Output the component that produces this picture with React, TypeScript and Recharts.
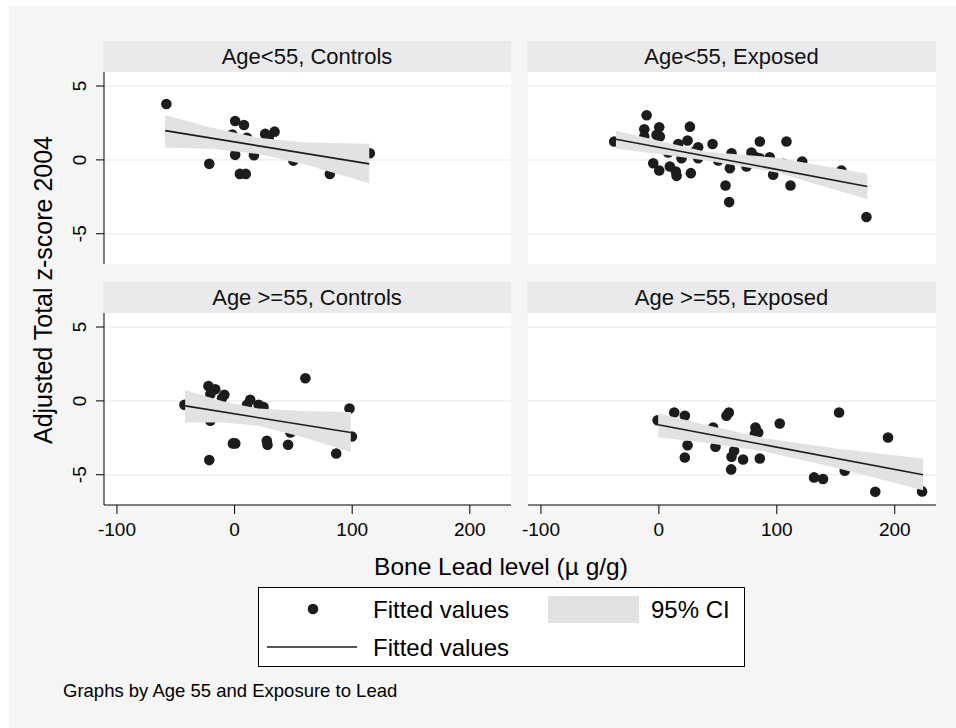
import React from "react";
import { ComposedChart, Scatter, Line, Area, XAxis, YAxis, ReferenceLine } from "recharts";

// panel titles and tick values
const panelTitles = ["Age<55, Controls", "Age<55, Exposed", "Age >=55, Controls", "Age >=55, Exposed"];
const xTicks = [-100, 0, 100, 200];
const yTicks = [-5, 0, 5];
const xDomain = [-111, 235];
const yDomain = [-7.05, 5.95];

// Age<55, Controls
const ctrlYoungPts = [
  { x: -58, y: 3.78 }, { x: 0.5, y: 2.63 }, { x: 8, y: 2.36 }, { x: 26, y: 1.76 },
  { x: 34, y: 1.91 }, { x: 29, y: 1.46 }, { x: -2, y: 1.72 }, { x: 10.5, y: 1.5 },
  { x: 0.5, y: 0.34 }, { x: 16.5, y: 0.32 }, { x: -21.5, y: -0.27 }, { x: 4.5, y: -0.95 },
  { x: 9.5, y: -0.95 }, { x: 50, y: -0.05 }, { x: 81, y: -0.95 }, { x: 115, y: 0.45 },
];
const ctrlYoungFit = [{ x: -59, y: 1.98 }, { x: 114.5, y: -0.27 }];
const ctrlYoungCI = [
  { x: -59, ci: [0.83, 3.04] }, { x: -20, ci: [0.75, 2.19] }, { x: 20, ci: [0.4, 1.5] },
  { x: 60, ci: [-0.32, 1.18] }, { x: 114.5, ci: [-1.58, 1.1] },
];

// Age<55, Exposed
const expYoungPts = [
  { x: -37.9, y: 1.24 }, { x: -10.4, y: 3.02 }, { x: -12.4, y: 2.07 }, { x: 0.3, y: 2.21 },
  { x: -2, y: 1.69 }, { x: 0.8, y: 1.58 }, { x: 26.3, y: 2.25 }, { x: 24.3, y: 1.31 },
  { x: 16.4, y: 1.08 }, { x: 33.3, y: 0.86 }, { x: 45.5, y: 1.08 }, { x: 19.2, y: 0.11 },
  { x: 33.3, y: 0.11 }, { x: -4.8, y: -0.23 }, { x: 0.3, y: -0.72 }, { x: 9.3, y: -0.45 },
  { x: 14.4, y: -0.79 }, { x: 15, y: -1.08 }, { x: 27.1, y: -0.9 }, { x: 7.9, y: 0.5 },
  { x: 50.3, y: -0.04 }, { x: 61.6, y: 0.45 }, { x: 60.2, y: -0.56 }, { x: 56.5, y: -1.73 },
  { x: 59.6, y: -2.86 }, { x: 78.5, y: 0.5 }, { x: 85.6, y: 1.24 }, { x: 85.6, y: 0.11 },
  { x: 74.3, y: -0.45 }, { x: 94, y: 0.18 }, { x: 96.9, y: -1.01 }, { x: 105.4, y: -0.27 },
  { x: 108.2, y: 1.24 }, { x: 111.6, y: -1.73 }, { x: 121.5, y: -0.11 }, { x: 154.8, y: -0.72 },
  { x: 176, y: -3.87 }, { x: 81.4, y: 0.22 }, { x: 30.5, y: 0.56 }, { x: -12.4, y: 1.58 },
];
const expYoungFit = [{ x: -36.4, y: 1.4 }, { x: 176.8, y: -1.8 }];
const expYoungCI = [
  { x: -36.4, ci: [0.75, 1.98] }, { x: 0, ci: [0.4, 1.3] }, { x: 40, ci: [-0.05, 0.55] },
  { x: 100, ci: [-0.85, 0.15] }, { x: 176.8, ci: [-2.66, -0.94] },
];

// Age >=55, Controls
const ctrlOldPts = [
  { x: -42.6, y: -0.27 }, { x: -22.2, y: 1.01 }, { x: -16.4, y: 0.79 }, { x: -20.6, y: 0.45 },
  { x: -8.7, y: 0.41 }, { x: -10.7, y: 0.18 }, { x: -20.6, y: -1.35 }, { x: -21.5, y: -4.01 },
  { x: -1.4, y: -2.88 }, { x: 0.6, y: -2.88 }, { x: 13.3, y: 0.07 }, { x: 20.4, y: -0.27 },
  { x: 24.6, y: -0.41 }, { x: 10.6, y: -0.27 }, { x: 27.4, y: -2.7 }, { x: 28, y: -2.97 },
  { x: 45.5, y: -2.97 }, { x: 60.2, y: 1.53 }, { x: 47.5, y: -2.14 }, { x: 97.7, y: -0.52 },
  { x: 99.7, y: -2.41 }, { x: 86.4, y: -3.56 },
];
const ctrlOldFit = [{ x: -41.9, y: -0.34 }, { x: 98.8, y: -2.14 }];
const ctrlOldCI = [
  { x: -42, ci: [-1.46, 0.72] }, { x: -10, ci: [-1.47, -0.03] }, { x: 20, ci: [-1.68, -0.52] },
  { x: 60, ci: [-2.5, -0.7] }, { x: 98.8, ci: [-3.48, -0.75] },
];

// Age >=55, Exposed
const expOldPts = [
  { x: -1.1, y: -1.31 }, { x: 13, y: -0.79 }, { x: 22, y: -1.01 }, { x: 24.3, y: -3.0 },
  { x: 22, y: -3.83 }, { x: 46, y: -1.8 }, { x: 48, y: -3.11 }, { x: 57.3, y: -1.01 },
  { x: 59.3, y: -0.79 }, { x: 63.8, y: -3.38 }, { x: 61.6, y: -3.78 }, { x: 61.3, y: -4.64 },
  { x: 71.4, y: -3.97 }, { x: 81.9, y: -1.8 }, { x: 81.4, y: -2.25 }, { x: 85.6, y: -3.9 },
  { x: 102.5, y: -1.53 }, { x: 131.6, y: -5.18 }, { x: 139.2, y: -5.29 }, { x: 152.8, y: -0.79 },
  { x: 157.6, y: -4.73 }, { x: 194.3, y: -2.48 }, { x: 183.5, y: -6.15 }, { x: 223.2, y: -6.13 },
  { x: 84.2, y: -2.14 },
];
const expOldFit = [{ x: -0.6, y: -1.62 }, { x: 224, y: -5.0 }];
const expOldCI = [
  { x: -0.6, ci: [-2.48, -0.84] }, { x: 40, ci: [-2.83, -1.63] }, { x: 90, ci: [-3.43, -2.53] },
  { x: 150, ci: [-4.53, -3.23] }, { x: 224, ci: [-6.05, -3.9] },
];

const FONT = '"Liberation Sans", Arial, Helvetica, sans-serif';
const INK = "#1c1c1c";
const BAND = "#e1e2e4";

const Dot = (p: any) => <circle cx={p.cx} cy={p.cy} r={5.3} fill={INK} />;

const YTick = ({ x, y, payload }: any) => (
  <text
    x={x - 8}
    y={y}
    transform={`rotate(-90 ${x - 8} ${y})`}
    textAnchor="middle"
    fontSize={19}
    fontFamily={FONT}
    fill="#000"
  >
    {payload.value}
  </text>
);

type PanelProps = {
  title: string;
  pts: { x: number; y: number }[];
  fit: { x: number; y: number }[];
  ci: { x: number; ci: number[] }[];
  left: number;
  top: number;
  width: number;
  showX: boolean;
  showY: boolean;
};

const Panel = ({ title, pts, fit, ci, left, top, width, showX, showY }: PanelProps) => {
  const plotH = 192;
  // room on the left: the y axis, or just enough for the "-100" tick label
  const padL = showY ? 45 : 30;
  const xH = showX ? 50 : 0;
  return (
    <>
      <div
        style={{
          position: "absolute", left: left - 1, top: top - 31, width: width + 1, height: 31,
          background: "#eaeaec", textAlign: "center", lineHeight: "31px",
          fontSize: 22, fontFamily: FONT, color: "#111",
        }}
      >
        {title}
      </div>
      <div style={{ position: "absolute", left, top, width, height: plotH, background: "#fff" }} />
      <div style={{ position: "absolute", left: left - padL, top }}>
        <ComposedChart
          width={width + padL}
          height={plotH + xH}
          margin={{ top: 0, right: 0, bottom: 0, left: showY ? 0 : padL }}
        >
          <XAxis
            dataKey="x"
            type="number"
            domain={xDomain}
            ticks={xTicks}
            interval={0}
            allowDataOverflow
            hide={!showX}
            height={50}
            tickSize={9}
            tickMargin={9}
            axisLine={{ stroke: "#000" }}
            tickLine={{ stroke: "#000" }}
            tick={{ fontSize: 19, fontFamily: FONT, fill: "#000" }}
          />
          <YAxis
            type="number"
            domain={yDomain}
            ticks={yTicks}
            interval={0}
            allowDataOverflow
            hide={!showY}
            width={45}
            tickSize={8}
            axisLine={{ stroke: "#000" }}
            tickLine={{ stroke: "#000" }}
            tick={<YTick />}
          />
          {yTicks.map((v) => (
            <ReferenceLine key={v} y={v} stroke="#efefef" strokeWidth={1.5} />
          ))}
          <Scatter data={pts} dataKey="y" shape={<Dot />} isAnimationActive={false} zIndex={600} />
          <Area
            data={ci}
            dataKey="ci"
            type="linear"
            stroke="none"
            fill={BAND}
            fillOpacity={1}
            isAnimationActive={false}
            zIndex={650}
          />
          <Line
            data={fit}
            dataKey="y"
            type="linear"
            stroke={INK}
            strokeWidth={1.6}
            dot={false}
            activeDot={false}
            isAnimationActive={false}
            zIndex={700}
          />
        </ComposedChart>
      </div>
    </>
  );
};

export default function App() {
  return (
    <div style={{ position: "absolute", left: 0, top: 0, width: 956, height: 728, background: "#fff", fontFamily: FONT }}>
      <div style={{ position: "absolute", left: 9, top: 6, width: 947, height: 722, background: "#f5f5f5" }} />
      <Panel title={panelTitles[0]} pts={ctrlYoungPts} fit={ctrlYoungFit} ci={ctrlYoungCI} left={104} top={72} width={407} showX={false} showY />
      <Panel title={panelTitles[1]} pts={expYoungPts} fit={expYoungFit} ci={expYoungCI} left={528} top={72} width={408} showX={false} showY={false} />
      <Panel title={panelTitles[2]} pts={ctrlOldPts} fit={ctrlOldFit} ci={ctrlOldCI} left={104} top={313} width={407} showX showY />
      <Panel title={panelTitles[3]} pts={expOldPts} fit={expOldFit} ci={expOldCI} left={528} top={313} width={408} showX showY={false} />
      <svg style={{ position: "absolute", left: 0, top: 0 }} width={956} height={728} pointerEvents="none">
        <text
          x={0}
          y={0}
          transform="translate(52 290) rotate(-90)"
          textAnchor="middle"
          fontSize={25}
          fontFamily={FONT}
          fill="#000"
        >
          Adjusted Total z-score 2004
        </text>
        <text x={501} y={575} textAnchor="middle" fontSize={24.5} fontFamily={FONT} fill="#000">
          Bone Lead level (µ g/g)
        </text>
        <rect x={258.5} y={587.5} width={486} height={79} fill="#fff" stroke="#000" strokeWidth={1} />
        <circle cx={313} cy={609} r={5.3} fill={INK} />
        <text x={373} y={618} fontSize={24} fontFamily={FONT} fill="#000">Fitted values</text>
        <rect x={548} y={596} width={91} height={27} fill={BAND} />
        <text x={651} y={618} fontSize={24} fontFamily={FONT} fill="#000">95% CI</text>
        <line x1={267} y1={647} x2={357} y2={647} stroke={INK} strokeWidth={1.6} />
        <text x={373} y={656} fontSize={24} fontFamily={FONT} fill="#000">Fitted values</text>
        <text x={63} y={697} fontSize={18.5} fontFamily={FONT} fill="#000">Graphs by Age 55 and Exposure to Lead</text>
      </svg>
    </div>
  );
}
